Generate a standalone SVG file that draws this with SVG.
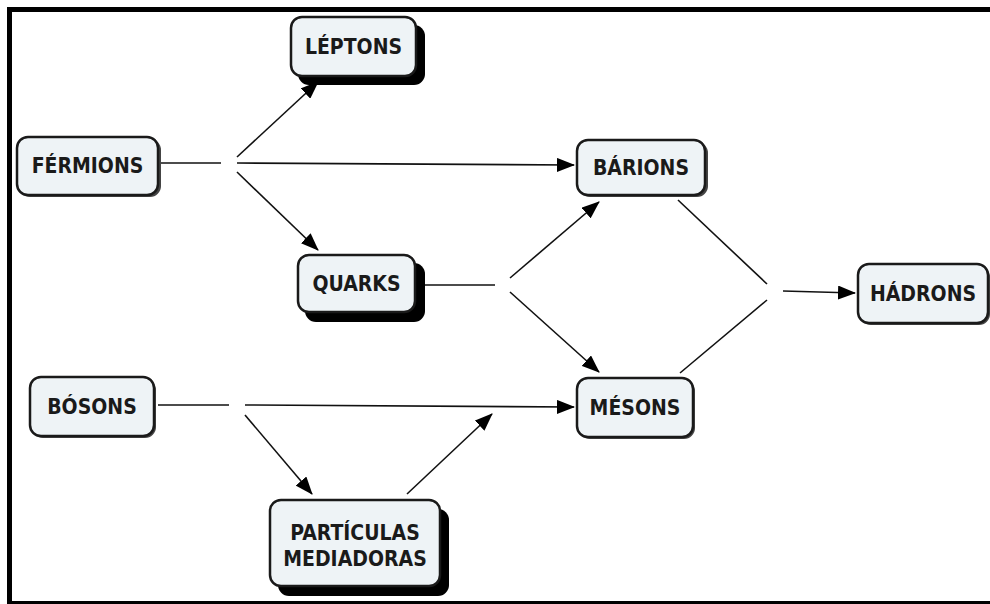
<svg xmlns="http://www.w3.org/2000/svg" width="990" height="604" viewBox="0 0 990 604">
<defs>
<marker id="arr" viewBox="0 0 18 14" refX="17" refY="7" markerWidth="18" markerHeight="14" markerUnits="userSpaceOnUse" orient="auto">
<path d="M0,0 L18,7 L0,14 Z" fill="#000"/>
</marker>
</defs>
<style>
.box{fill:#eef3f6;stroke:#1a1a1a;stroke-width:2.5}
.sh{fill:#000}
.sh2{fill:#444}
.t{font-family:"DejaVu Sans Condensed","DejaVu Sans",sans-serif;font-weight:bold;font-size:21px;fill:#1a1a1a;text-anchor:middle}
.c{stroke:#111;stroke-width:1.6;fill:none}
.a{marker-end:url(#arr)}
</style>
<rect width="990" height="604" fill="#fff"/>
<g id="frame">
<rect x="7" y="7" width="983" height="5" fill="#000"/>
<rect x="7" y="7" width="5" height="597" fill="#000"/>
<rect x="7" y="601" width="983" height="3" fill="#000"/>
</g>
<g id="connectors">
<line class="c" x1="160" y1="163" x2="221" y2="163"/>
<line class="c a" x1="237" y1="163" x2="574" y2="165"/>
<line class="c a" x1="237" y1="157" x2="318" y2="82"/>
<line class="c a" x1="237" y1="172" x2="318" y2="250"/>
<line class="c" x1="424" y1="285" x2="495" y2="285"/>
<line class="c a" x1="510" y1="278" x2="599" y2="202"/>
<line class="c a" x1="510" y1="292" x2="599" y2="372"/>
<line class="c" x1="678" y1="200" x2="767" y2="284"/>
<line class="c" x1="680" y1="373" x2="767" y2="300"/>
<line class="c a" x1="783" y1="291" x2="855" y2="293"/>
<line class="c" x1="158" y1="405" x2="229" y2="405"/>
<line class="c a" x1="245" y1="405" x2="574" y2="407"/>
<line class="c a" x1="245" y1="415" x2="312" y2="494"/>
<line class="c a" x1="407" y1="494" x2="492" y2="414"/>
</g>
<g id="leptons">
<rect class="sh" x="298" y="25" width="127" height="60" rx="11"/>
<rect class="box" x="291" y="17" width="125" height="59" rx="11"/>
<text class="t" x="353.5" y="54">LÉPTONS</text>
</g>
<g id="fermions">
<rect class="sh2" x="19" y="139" width="142" height="58" rx="11"/>
<rect class="box" x="17" y="137" width="141" height="58" rx="11"/>
<text class="t" x="87.5" y="173">FÉRMIONS</text>
</g>
<g id="barions">
<rect class="sh2" x="579" y="142" width="129" height="55" rx="11"/>
<rect class="box" x="577" y="140" width="128" height="55" rx="11"/>
<text class="t" x="641" y="175">BÁRIONS</text>
</g>
<g id="quarks">
<rect class="sh" x="305" y="263" width="120" height="59" rx="11"/>
<rect class="box" x="298" y="255" width="117" height="57" rx="11"/>
<text class="t" x="356.5" y="291">QUARKS</text>
</g>
<g id="hadrons">
<rect class="sh2" x="860" y="266" width="130" height="59" rx="11"/>
<rect class="box" x="858" y="264" width="130" height="59" rx="11"/>
<text class="t" x="923" y="301">HÁDRONS</text>
</g>
<g id="bosons">
<rect class="sh2" x="32" y="379" width="124" height="59" rx="11"/>
<rect class="box" x="30" y="377" width="124" height="59" rx="11"/>
<text class="t" x="92" y="414">BÓSONS</text>
</g>
<g id="mesons">
<rect class="sh2" x="579" y="380" width="116" height="59" rx="11"/>
<rect class="box" x="577" y="378" width="116" height="59" rx="11"/>
<text class="t" x="635" y="415">MÉSONS</text>
</g>
<g id="particulas">
<rect class="sh" x="278" y="509" width="171" height="87" rx="11"/>
<rect class="box" x="270" y="500" width="170" height="86" rx="11"/>
<text class="t" x="355" y="540">PARTÍCULAS</text>
<text class="t" x="355" y="566">MEDIADORAS</text>
</g>
</svg>
